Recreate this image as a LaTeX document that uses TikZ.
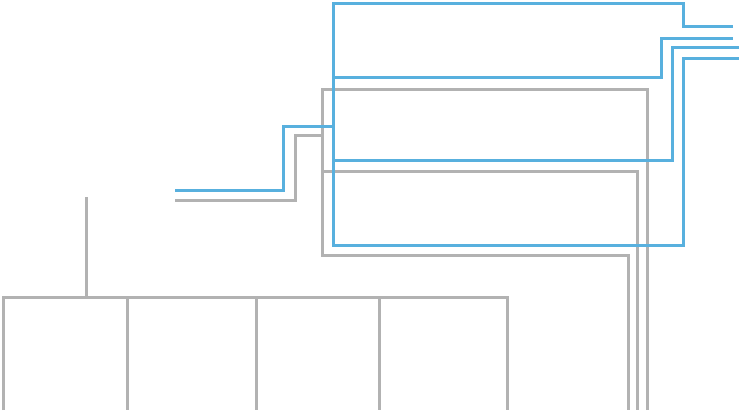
\documentclass[tikz,border=0pt]{standalone}
\definecolor{WireBlue}{RGB}{88,176,222}
\definecolor{WireGrey}{RGB}{178,178,178}
\tikzset{
  blueline/.style={line width=3pt, draw=WireBlue},
  greyline/.style={line width=3pt, draw=WireGrey}
}
\begin{document}
\begin{tikzpicture}[x=1pt,y=-1pt]
		\useasboundingbox (0,0) rectangle (739,410);
		% grey frame and feeds
		\draw[greyline] (175,200) -- (295,200) -- (295,135) -- (322,135);
		\draw[greyline] (647,410) -- (647,89) -- (322,89) -- (322,255) -- (628,255) -- (628,410);
		\draw[greyline] (322,171) -- (637,171) -- (637,410);
		% grey tree
		\draw[greyline] (86,197) -- (86,297);
		\draw[greyline] (3,410) -- (3,297) -- (507,297) -- (507,410);
		\foreach \x in {127,256,379}
			\draw[greyline] (\x,297) -- (\x,410);
		% blue frame and feeds
		\draw[blueline] (733,26) -- (683,26) -- (683,3) -- (333,3) -- (333,245) -- (683,245) -- (683,58) -- (739,58);
		\draw[blueline] (333,77) -- (661,77) -- (661,38) -- (733,38);
		\draw[blueline] (333,160) -- (672,160) -- (672,47) -- (739,47);
		\draw[blueline] (175,190) -- (283,190) -- (283,126) -- (333,126);
	\end{tikzpicture}
\end{document}
